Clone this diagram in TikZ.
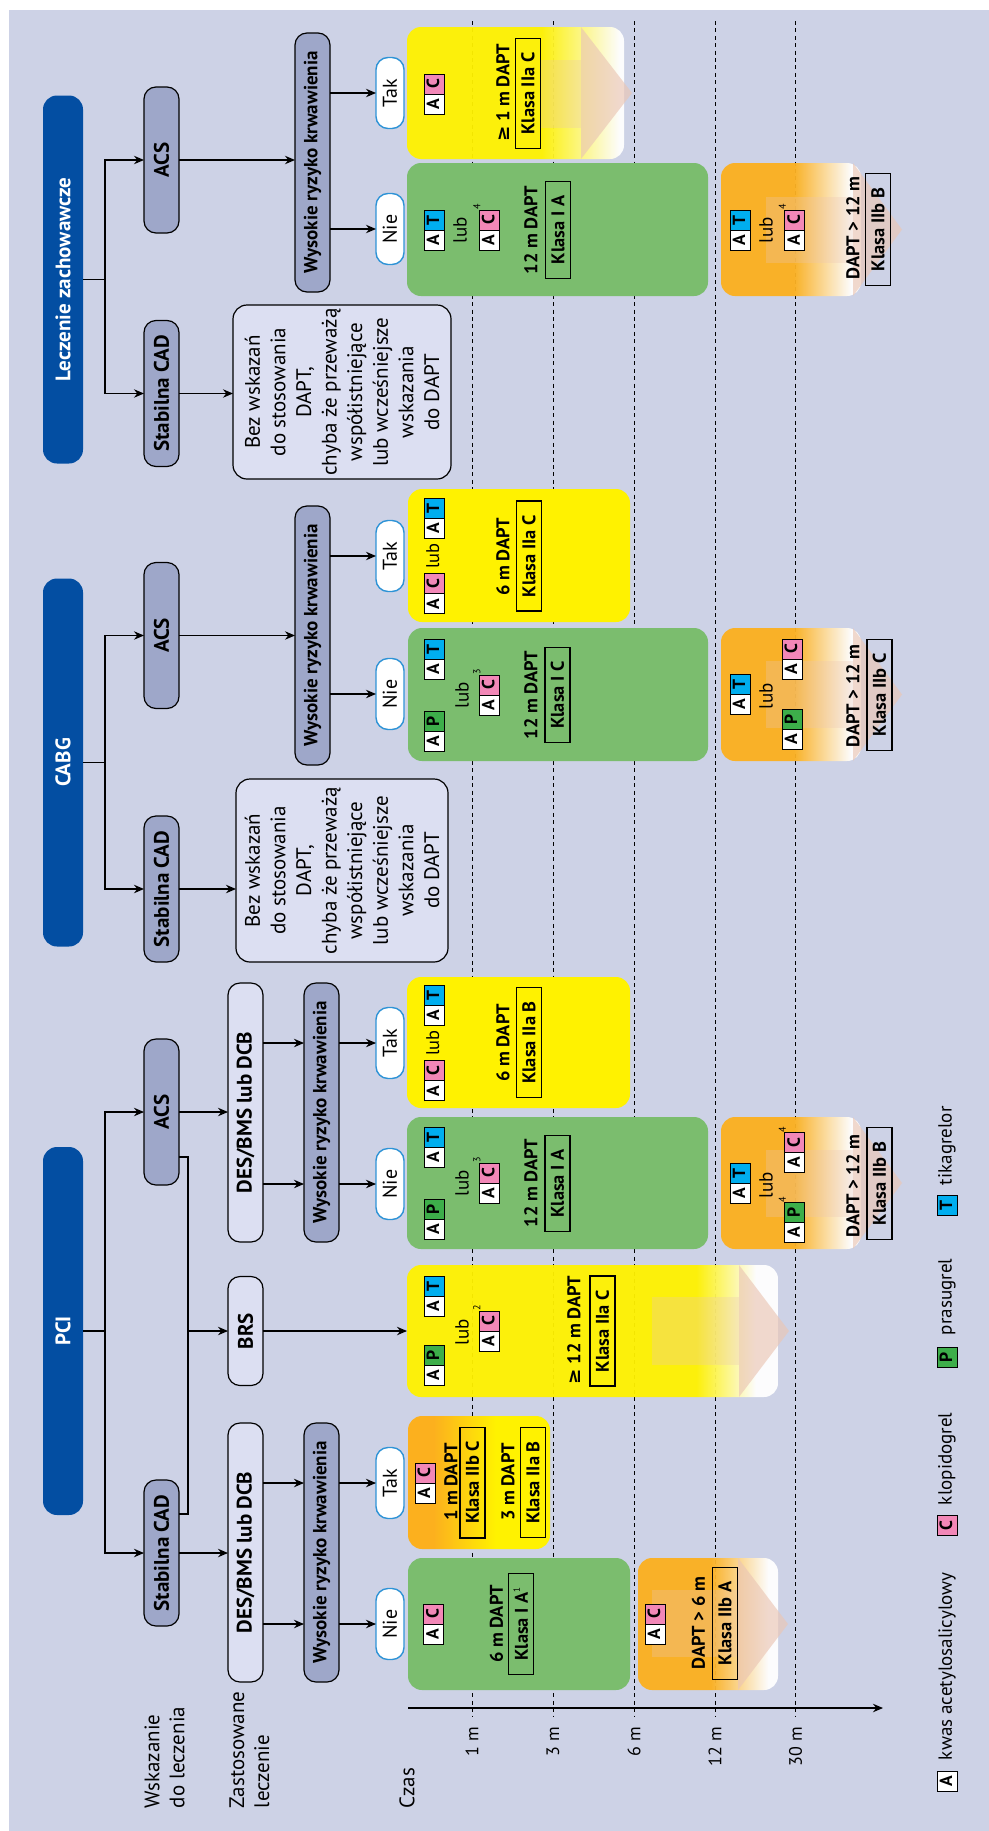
\documentclass[tikz,border=0pt]{standalone}
\usepackage{fontspec}
\setmainfont{PT Sans}
\newfontfamily\dejavu{DejaVu Sans}
\usetikzlibrary{arrows.meta,fit}

\definecolor{bgC}{HTML}{CDD2E6}
\definecolor{headC}{HTML}{034EA2}
\definecolor{grayC}{HTML}{9EA7C9}
\definecolor{lightC}{HTML}{DCDFF2}
\definecolor{ynC}{HTML}{2E93D6}
\definecolor{greenC}{HTML}{7BBD6E}
\definecolor{yelC}{HTML}{FFF200}
\definecolor{oraC}{HTML}{FCB01E}
\definecolor{pinkC}{HTML}{F287B7}
\definecolor{presC}{HTML}{3DAE4A}
\definecolor{tikC}{HTML}{00AEEF}
\definecolor{peachC}{HTML}{EBC6B4}

\pgfdeclarehorizontalshading{oratoyel}{100bp}{color(0bp)=(oraC); color(34bp)=(oraC); color(56bp)=(yelC); color(100bp)=(yelC)}
\pgfdeclarehorizontalshading{yelfade}{100bp}{color(0bp)=(yelC); color(64bp)=(yelC); color(72bp)=(white); color(100bp)=(white)}
\pgfdeclarehorizontalshading{yelfadeb}{100bp}{color(0bp)=(yelC); color(56bp)=(yelC); color(74bp)=(white); color(100bp)=(white)}
\pgfdeclarehorizontalshading{orafade}{100bp}{color(0bp)=(oraC); color(51bp)=(oraC); color(71.5bp)=(white); color(100bp)=(white)}

\newcommand\lek[2]{{\setlength\fboxsep{0pt}\setlength\fboxrule{0.5pt}\fcolorbox{black}{#1}{\makebox[9.5pt]{\rule[-2.2pt]{0pt}{9.5pt}\fontsize{8.8}{9}\selectfont\bfseries #2}}}}
\newcommand\pAC{\lek{white}{A}\kern-0.5pt\lek{pinkC}{C}}
\newcommand\pAP{\lek{white}{A}\kern-0.5pt\lek{presC}{P}}
\newcommand\pAT{\lek{white}{A}\kern-0.5pt\lek{tikC}{T}}
\newcommand\sups[1]{\rlap{\raisebox{7pt}{\fontsize{5}{5}\selectfont\mdseries #1}}}

\begin{document}
\begin{tikzpicture}[x=0.5pt, y=-0.5pt,
  every node/.style={inner sep=0pt, outer sep=0pt},
  rot/.style={rotate=90},
  header/.style={rot, fill=headC, rounded corners=7pt, minimum width=184pt, minimum height=20pt, text=white, font=\fontsize{10.5}{12}\selectfont\bfseries},
  lvl/.style={rot, draw, line width=0.6pt, fill=grayC, rounded corners=6pt, minimum width=73pt, minimum height=17.5pt, font=\fontsize{10.5}{12}\selectfont\bfseries},
  treat/.style={lvl, fill=lightC, minimum width=129.5pt},
  risk/.style={lvl, minimum width=129.5pt, font=\fontsize{9.5}{11}\selectfont\bfseries},
  yn/.style={rot, draw=ynC, line width=0.7pt, fill=white, rounded corners=6pt, minimum width=35.5pt, minimum height=14pt, font=\fontsize{10}{12}\selectfont},
  note/.style={rot, draw, line width=0.6pt, fill=lightC, rounded corners=7pt, align=center, font=\fontsize{10.5}{12.8}\selectfont},
  panel/.style={rounded corners=7pt},
  fadepanel/.style={panel, shade, fill opacity=0.95},
  shaftfill/.style={fill=peachC, fill opacity=0.3},
  headfill/.style={fill=peachC, fill opacity=0.65},
  ptxt/.style={rot, font=\fontsize{9.2}{11}\selectfont\bfseries},
  lubt/.style={rot, font=\fontsize{9.5}{11}\selectfont},
  klasa/.style={ptxt, draw, line width=0.6pt, inner xsep=7pt, minimum height=12.5pt},
  rowl/.style={rot, align=left, font=\fontsize{10.5}{12.5}\selectfont},
  axl/.style={rot, font=\fontsize{9}{11}\selectfont},
  legt/.style={rot, font=\fontsize{9.5}{11}\selectfont},
  timeline/.style={dash pattern=on 2pt off 1.7pt, line width=0.5pt},
  conn/.style={line width=0.65pt},
  arr/.style={conn, -{Stealth[length=5pt,width=4.2pt]}}]

\useasboundingbox (0,0) rectangle (989,1831);
\fill[white] (0,0) rectangle (989,1831);
\fill[bgC] (9,10) rectangle (989,1831);

\foreach \x/\t [count=\i] in {472/1 m, 553/3 m, 634/6 m, 715/12 m, 795.5/30 m} {
  \draw[timeline] (\x,21) -- (\x,1717);
  \node[axl, anchor=east] (t\i) at (\x,1727) {\t};
}
\coordinate (ax0) at (408,1708);
\coordinate (ax1) at (883,1708);
\draw[arr] (ax0) -- (ax1);

\node[rowl, anchor=west] (lwsk) at (164.5,1808) {Wskazanie\\do leczenia};
\node[rowl, anchor=west] (lzast) at (249.5,1808) {Zastosowane\\leczenie};
\node[rowl, anchor=west] (lczas) at (407,1808) {Czas};

\node[header] (pci) at (63,1331) {PCI};
\node[header] (cabg) at (63,762.5) {CABG};
\node[header] (lecz) at (63,279.5) {Leczenie zachowawcze};

\node[lvl] (pcistab) at (161.5,1553) {Stabilna CAD};
\node[lvl] (pciacs) at (161.5,1112) {ACS};
\node[lvl] (cabgstab) at (161.5,889) {Stabilna CAD};
\node[lvl] (cabgacs) at (161.5,635.5) {ACS};
\node[lvl] (leczstab) at (161.5,393.5) {Stabilna CAD};
\node[lvl] (leczacs) at (161.5,160) {ACS};

\node[treat] (pcides1) at (245.5,1552.5) {DES/BMS lub DCB};
\node[treat] (pcides2) at (245.5,1112.5) {DES/BMS lub DCB};
\node[treat, minimum width=54.5pt] (brs) at (245.5,1331) {BRS};

\node[risk] (wys1) at (321.5,1552.5) {Wysokie ryzyko krwawienia};
\node[risk] (wys2) at (321.5,1112.5) {Wysokie ryzyko krwawienia};
\node[risk] (wys3) at (312.5,635.5) {Wysokie ryzyko krwawienia};
\node[risk] (wys4) at (312.5,162.5) {Wysokie ryzyko krwawienia};

\node[yn] (tak1) at (390,1483) {Tak};
\node[yn] (nie1) at (390,1624) {Nie};
\node[yn] (tak2) at (390,1043) {Tak};
\node[yn] (nie2) at (390,1184) {Nie};
\node[yn] (tak3) at (390,556) {Tak};
\node[yn] (nie3) at (390,694) {Nie};
\node[yn] (tak4) at (390,93) {Tak};
\node[yn] (nie4) at (390,229) {Nie};

\node[note, minimum width=91.5pt, minimum height=106pt] (cabgbez) at (342,870.5) {Bez wskazań\\do stosowania\\DAPT,\\chyba że przeważą\\współistniejące\\lub wcześniejsze\\wskazania\\do DAPT};
\node[note, minimum width=87pt, minimum height=109pt] (leczbez) at (342,392) {Bez wskazań\\do stosowania\\DAPT,\\chyba że przeważą\\współistniejące\\lub wcześniejsze\\wskazania\\do DAPT};

\coordinate (pcij) at (105,1331);
\coordinate (cabgj) at (105,762.5);
\coordinate (leczj) at (105,279.5);
\draw[conn] (pci) -- (pcij);
\draw[arr] (pcij) |- (pcistab);
\draw[arr] (pcij) |- (pciacs);
\draw[conn] (cabg) -- (cabgj);
\draw[arr] (cabgj) |- (cabgstab);
\draw[arr] (cabgj) |- (cabgacs);
\draw[conn] (lecz) -- (leczj);
\draw[arr] (leczj) |- (leczstab);
\draw[arr] (leczj) |- (leczacs);

\coordinate (brsa) at (188,1157);
\coordinate (brsb) at (188,1514);
\coordinate (brsj) at (188,1331);
\draw[conn] (pciacs.south |- brsa) -- (brsa) -- (brsb) -- (pcistab.south |- brsb);
\draw[arr] (brsj) -- (brs);

\draw[arr] (pcistab) -- (pcistab -| pcides1.north);
\draw[arr] (pciacs) -- (pciacs -| pcides2.north);
\draw[arr] (cabgacs) -- (cabgacs -| wys3.north);
\draw[arr] (leczacs) -- (leczacs -| wys4.north);
\draw[arr] (cabgstab) -- (cabgstab -| cabgbez.north);
\draw[arr] (leczstab) -- (leczstab -| leczbez.north);

\draw[arr] (pcides1.south |- tak1) -- (wys1.north |- tak1);
\draw[arr] (pcides1.south |- nie1) -- (wys1.north |- nie1);
\draw[arr] (pcides2.south |- tak2) -- (wys2.north |- tak2);
\draw[arr] (pcides2.south |- nie2) -- (wys2.north |- nie2);
\draw[arr] (wys1.south |- tak1) -- (tak1);
\draw[arr] (wys1.south |- nie1) -- (nie1);
\draw[arr] (wys2.south |- tak2) -- (tak2);
\draw[arr] (wys2.south |- nie2) -- (nie2);
\draw[arr] (wys3.south |- tak3) -- (tak3);
\draw[arr] (wys3.south |- nie3) -- (nie3);
\draw[arr] (wys4.south |- tak4) -- (tak4);
\draw[arr] (wys4.south |- nie4) -- (nie4);

\node[panel, fill=greenC, fit={(408,1558) (630,1690)}] (psnp) {};
\node[ptxt] (psn1) at (433.5,1624) {\pAC};
\node[ptxt] (psn2) at (496.5,1624) {6 m DAPT};
\node[klasa] (psn3) at (520.7,1624) {Klasa I A\raisebox{4pt}{\fontsize{4.5}{5}\selectfont\mdseries 1}};
\node[fadepanel, shading=orafade, fit={(638,1558) (778,1690)}] (psfp) {};
\fill[shaftfill] (652,1590) rectangle (738,1657);
\fill[headfill] (738,1558) -- (788,1624) -- (738,1690) -- cycle;
\node[ptxt] (psf1) at (655,1624) {\pAC};
\node[ptxt] (psf2) at (698.5,1623) {DAPT > 6 m};
\node[klasa] (psf3) at (725,1623.5) {Klasa IIb A};

\node[panel, shade, shading=oratoyel, fit={(408,1416) (550,1549)}] (pstp) {};
\node[ptxt] (pst1) at (425,1483) {\pAC};
\node[ptxt] (pst2) at (451,1482) {1 m DAPT};
\node[klasa] (pst3) at (472.5,1482.5) {Klasa IIb C};
\node[ptxt] (pst4) at (508,1482) {3 m DAPT};
\node[klasa] (pst5) at (533,1482.5) {Klasa IIa B};

\node[fadepanel, shading=yelfade, fit={(407,1265) (778,1397)}] (brsp) {};
\fill[shaftfill] (652,1297) rectangle (739,1365);
\fill[headfill] (739,1265) -- (789,1331) -- (739,1397) -- cycle;
\node[ptxt] (brs1) at (434,1331) {\pAP\hspace{14pt}\pAT};
\node[lubt] (brs2) at (462,1332) {lub};
\node[ptxt] (brs3) at (486.5,1331) {\pAC\sups{2}};
\node[ptxt] (brs4) at (574,1330) {{\dejavu ≥} 12 m DAPT};
\node[klasa] (brs5) at (602.5,1331) {Klasa IIa C};
\draw[arr] (brs) -- (brsp);

\node[panel, fill=greenC, fit={(407,1117) (708,1249)}] (panp) {};
\node[ptxt] (pan1) at (434,1183.5) {\pAP\hspace{15.5pt}\pAT};
\node[lubt] (pan2) at (462,1183) {lub};
\node[ptxt] (pan3) at (486.5,1183) {\pAC\sups{3}};
\node[ptxt] (pan4) at (531,1183) {12 m DAPT};
\node[klasa] (pan5) at (557.5,1183.5) {Klasa I A};
\node[fadepanel, shading=orafade, fit={(721,1117) (861,1249)}] (pafp) {};
\fill[shaftfill] (766,1150) rectangle (853,1217);
\fill[headfill] (853,1117) -- (902,1183) -- (853,1249) -- cycle;
\node[ptxt] (paf1) at (740,1183) {\pAT};
\node[lubt] (paf2) at (766,1185) {lub};
\node[ptxt] (paf3) at (792,1187.5) {\pAP\sups{4}\hspace{14.5pt}\pAC\sups{4}};
\node[ptxt] (paf4) at (853,1186) {DAPT > 12 m};
\node[klasa] (paf5) at (879.5,1183.5) {Klasa IIb B};

\node[panel, fill=yelC, fit={(407,977) (630,1108)}] (patp) {};
\node[ptxt] (pat1) at (434,1043) {\pAC\ {\mdseries lub}\ \pAT};
\node[ptxt] (pat2) at (503,1043) {6 m DAPT};
\node[klasa] (pat3) at (529,1042.5) {Klasa IIa B};

\node[panel, fill=yelC, fit={(408,489) (630,622)}] (catp) {};
\node[ptxt] (cat1) at (434,556) {\pAC\ {\mdseries lub}\ \pAT};
\node[ptxt] (cat2) at (503,557) {6 m DAPT};
\node[klasa] (cat3) at (529,556) {Klasa IIa C};

\node[panel, fill=greenC, fit={(408,628) (708,761)}] (canp) {};
\node[ptxt] (can1) at (434,695) {\pAP\hspace{15.5pt}\pAT};
\node[lubt] (can2) at (462,695) {lub};
\node[ptxt] (can3) at (486.5,695) {\pAC\sups{3}};
\node[ptxt] (can4) at (531,695) {12 m DAPT};
\node[klasa] (can5) at (557.5,695) {Klasa I C};
\node[fadepanel, shading=orafade, fit={(721,628) (861,761)}] (cafp) {};
\fill[shaftfill] (766,661) rectangle (853,728);
\fill[headfill] (853,628) -- (902,694.5) -- (853,761) -- cycle;
\node[ptxt] (caf1) at (740,694) {\pAT};
\node[lubt] (caf2) at (766,696) {lub};
\node[ptxt] (caf3) at (792,694) {\pAP\hspace{14.5pt}\pAC};
\node[ptxt] (caf4) at (853,696) {DAPT > 12 m};
\node[klasa] (caf5) at (879.5,695) {Klasa IIb C};

\node[fadepanel, shading=yelfadeb, fit={(407,27) (624,159)}] (latp) {};
\fill[shaftfill] (541,60) rectangle (581,128);
\fill[headfill] (581,27) -- (632,93) -- (581,159) -- cycle;
\node[ptxt] (lat1) at (434,94) {\pAC};
\node[ptxt] (lat2) at (503,93) {{\dejavu ≥} 1 m DAPT};
\node[klasa] (lat3) at (528,93.5) {Klasa IIa C};

\node[panel, fill=greenC, fit={(407,163) (708,296)}] (lanp) {};
\node[ptxt] (lan1) at (434,230) {\pAT};
\node[lubt] (lan2) at (460,230) {lub};
\node[ptxt] (lan3) at (486.5,230) {\pAC\sups{4}};
\node[ptxt] (lan4) at (531,230) {12 m DAPT};
\node[klasa] (lan5) at (558,230) {Klasa I A};
\node[fadepanel, shading=orafade, fit={(721,163) (861,296)}] (lafp) {};
\fill[shaftfill] (766,197) rectangle (853,263);
\fill[headfill] (853,163) -- (902,229.5) -- (853,296) -- cycle;
\node[ptxt] (laf1) at (740,230) {\pAT};
\node[lubt] (laf2) at (766,230) {lub};
\node[ptxt] (laf3) at (792,230) {\pAC\sups{4}};
\node[ptxt] (laf4) at (853,228) {DAPT > 12 m};
\node[klasa] (laf5) at (878,229.5) {Klasa IIb B};

\node[rot] (lga) at (947,1781) {\lek{white}{A}};
\node[legt, anchor=west] (lgat) at (947,1760) {kwas acetylosalicylowy};
\node[rot] (lgc) at (947,1525.5) {\lek{pinkC}{C}};
\node[legt, anchor=west] (lgct) at (947,1505) {klopidogrel};
\node[rot] (lgp) at (947,1357) {\lek{presC}{P}};
\node[legt, anchor=west] (lgpt) at (947,1335) {prasugrel};
\node[rot] (lgt) at (947,1205) {\lek{tikC}{T}};
\node[legt, anchor=west] (lgtt) at (947,1185) {tikagrelor};
\end{tikzpicture}
\end{document}
